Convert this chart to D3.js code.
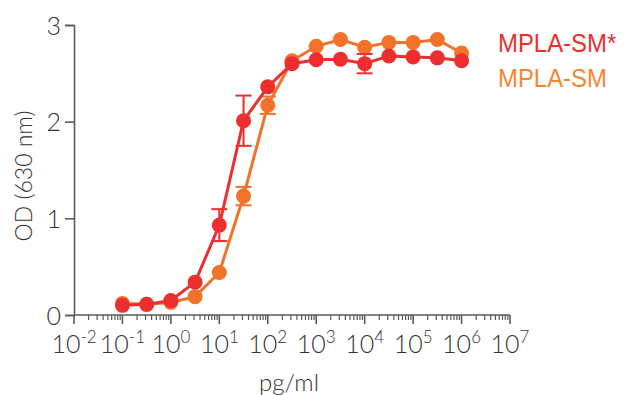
<!DOCTYPE html>
<html><head><meta charset="utf-8">
<script src="https://cdn.jsdelivr.net/npm/d3@7"></script>
<style>
html,body{margin:0;padding:0;background:#fff;}
svg{display:block;font-family:Lato,"Open Sans",sans-serif;}
</style></head>
<body>
<svg id="chart" width="623" height="395"></svg>
<script>
// concentrations (pg/ml)
const concentrations = [0.1, 0.316, 1, 3.16, 10, 31.6, 100, 316, 1000, 3162, 10000, 31623, 100000, 316228, 1000000];
const seriesNames = ["MPLA-SM*", "MPLA-SM"];
const mplaSmStar = [0.10, 0.11, 0.15, 0.34, 0.93, 2.01, 2.36, 2.60, 2.64, 2.645, 2.60, 2.68, 2.67, 2.66, 2.63];
const mplaSmStarErr = [0, 0, 0, 0, 0.165, 0.26, 0, 0, 0, 0, 0.10, 0, 0, 0, 0];
const mplaSm = [0.12, 0.11, 0.13, 0.19, 0.44, 1.23, 2.17, 2.63, 2.78, 2.85, 2.77, 2.82, 2.82, 2.85, 2.71];
const mplaSmErr = [0, 0, 0, 0, 0, 0.095, 0.09, 0, 0, 0, 0, 0, 0, 0, 0];
const xTickExponents = [-2, -1, 0, 1, 2, 3, 4, 5, 6, 7];
const yTicks = [0, 1, 2, 3];
const colors = {"MPLA-SM*": "#ED2E2E", "MPLA-SM": "#F3722A"};
const legendColors = {"MPLA-SM*": "#ED2E2E", "MPLA-SM": "#F5882E"};

const svg = d3.select("#chart");
const x = d3.scaleLog().domain([1e-2, 1e7]).range([74, 510]);
const y = d3.scaleLinear().domain([0, 3]).range([315, 25]);
const axisColor = "#5a5a5a";
const textColor = "#333";

// Y axis
const yAxis = svg.append("g").attr("transform", "translate(74,0)")
  .call(d3.axisLeft(y).tickValues(yTicks).tickFormat(d3.format("d")).tickSize(9).tickPadding(4));
yAxis.select(".domain").attr("stroke", axisColor).attr("stroke-width", 1.6);
yAxis.selectAll(".tick line").attr("stroke", axisColor).attr("stroke-width", 1.6);
yAxis.selectAll(".tick text").attr("fill", textColor).style("font-size", "25px").style("font-weight", 300)
  .style("font-family", "Lato, sans-serif").attr("dy", "0.36em");

// X axis: major + minor ticks
const xAxisG = svg.append("g").attr("transform", "translate(0,315)");
xAxisG.append("line").attr("x1", x(1e-2)).attr("x2", x(1e7)).attr("y1", 0).attr("y2", 0)
  .attr("stroke", axisColor).attr("stroke-width", 1.6);
const minorVals = [];
for (let e = -2; e < 7; e++) for (let m = 2; m <= 9; m++) minorVals.push(m * Math.pow(10, e));
xAxisG.selectAll("line.minor").data(minorVals).join("line").attr("class", "minor")
  .attr("x1", d => x(d)).attr("x2", d => x(d)).attr("y1", 0).attr("y2", 5)
  .attr("stroke", axisColor).attr("stroke-width", 1.2);
xAxisG.selectAll("line.major").data(xTickExponents).join("line").attr("class", "major")
  .attr("x1", d => x(Math.pow(10, d))).attr("x2", d => x(Math.pow(10, d))).attr("y1", 0).attr("y2", 9)
  .attr("stroke", axisColor).attr("stroke-width", 1.6);
const lab = xAxisG.selectAll("text.xl").data(xTickExponents).join("text").attr("class", "xl")
  .attr("x", d => x(Math.pow(10, d))).attr("y", 38).attr("text-anchor", "middle")
  .attr("fill", textColor).style("font-weight", 300);
lab.append("tspan").text("10").style("font-size", "25px");
lab.append("tspan").text(d => String(d)).style("font-size", "17px").attr("dy", -10);

// Axis titles
svg.append("text").attr("x", 289).attr("y", 391).attr("text-anchor", "middle")
  .attr("fill", textColor).style("font-size", "24px").style("font-weight", 300).text("pg/ml");
svg.append("text").attr("transform", "translate(32,176) rotate(-90)").attr("text-anchor", "middle")
  .attr("fill", textColor).style("font-size", "23px").style("font-weight", 300).text("OD (630 nm)");

// Series: orange first, red on top
const series = [
  {name: "MPLA-SM", vals: mplaSm, err: mplaSmErr},
  {name: "MPLA-SM*", vals: mplaSmStar, err: mplaSmStarErr}
];
const line = d3.line().x(d => x(d.c)).y(d => y(d.v));
series.forEach(s => {
  const pts = concentrations.map((c, i) => ({c, v: s.vals[i], e: s.err[i]}));
  const g = svg.append("g");
  const col = colors[s.name];
  const eb = pts.filter(p => p.e > 0);
  g.selectAll("line.eb").data(eb).join("line").attr("class", "eb")
    .attr("x1", d => x(d.c)).attr("x2", d => x(d.c)).attr("y1", d => y(d.v - d.e)).attr("y2", d => y(d.v + d.e))
    .attr("stroke", col).attr("stroke-width", 2);
  [-1, 1].forEach(sgn => {
    g.selectAll("line.cap" + sgn).data(eb).join("line")
      .attr("x1", d => x(d.c) - 8).attr("x2", d => x(d.c) + 8)
      .attr("y1", d => y(d.v + sgn * d.e)).attr("y2", d => y(d.v + sgn * d.e))
      .attr("stroke", col).attr("stroke-width", 2);
  });
  g.append("path").datum(pts).attr("d", line).attr("fill", "none").attr("stroke", col).attr("stroke-width", 3);
  g.selectAll("circle").data(pts).join("circle").attr("cx", d => x(d.c)).attr("cy", d => y(d.v))
    .attr("r", 7.5).attr("fill", col);
});

// Legend
svg.selectAll("text.leg").data(seriesNames).join("text").attr("class", "leg")
  .attr("transform", (d, i) => `translate(498,${52 + i * 35}) scale(0.92,1)`)
  .attr("fill", d => legendColors[d]).style("font-size", "26px").style("font-weight", 400)
  .style("font-family", "'Liberation Sans', Arial, sans-serif")
  .text(d => d);
</script>
</body></html>
